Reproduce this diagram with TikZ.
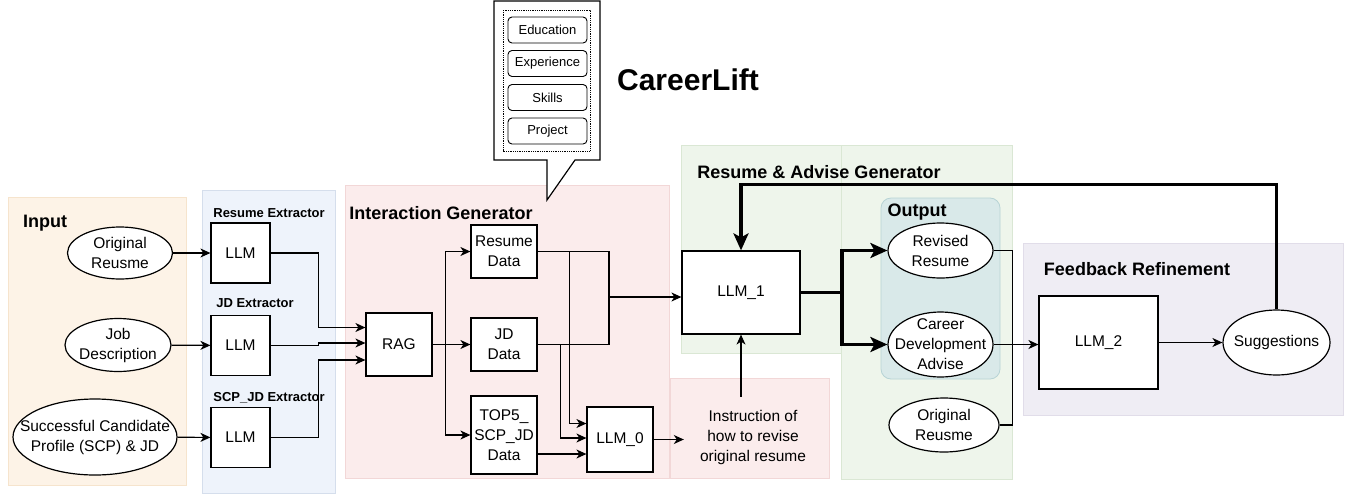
\documentclass[tikz,border=0pt]{standalone}
\usepackage{fontspec}
\setmainfont{Liberation Sans}
\usetikzlibrary{arrows.meta,positioning,shapes.geometric}
\definecolor{inputfill}{HTML}{FDF3E7}
\definecolor{inputline}{HTML}{F6E4CD}
\definecolor{extrfill}{HTML}{EEF3FB}
\definecolor{extrline}{HTML}{D5DEEC}
\definecolor{interfill}{HTML}{FBECEC}
\definecolor{interline}{HTML}{F2D7D7}
\definecolor{genfill}{HTML}{EEF5EB}
\definecolor{genline}{HTML}{DAE7D4}
\definecolor{outpfill}{HTML}{D9E9E9}
\definecolor{outpline}{HTML}{B7D3D5}
\definecolor{fbfill}{HTML}{EFEDF4}
\definecolor{fbline}{HTML}{E1DDE9}
\tikzset{
  panel/.style={draw=#1line,fill=#1fill,line width=0.8pt},
  box/.style={rectangle,draw,line width=1.2pt,fill=white,inner sep=0pt,align=center},
  oval/.style={ellipse,draw,line width=1.2pt,fill=white,inner sep=0pt},
  item/.style={rectangle,rounded corners=4pt,draw,line width=0.9pt,fill=white,
    minimum width=79pt,minimum height=26pt,font=\fontsize{13}{15}\selectfont},
  title/.style={font=\fontsize{18}{21}\selectfont\bfseries},
  subtitle/.style={font=\fontsize{13}{15}\selectfont\bfseries},
  flow/.style={-{Stealth[length=10pt,width=9pt,inset=3pt]},line width=1.2pt},
  bigflow/.style={-{Stealth[length=17pt,width=15pt,inset=4pt]},line width=3.5pt}}
\begin{document}
\begin{tikzpicture}[x=1pt,y=-1pt,font=\fontsize{15.5}{20}\selectfont]
  \useasboundingbox (0,0) rectangle (1348,498);
  % background panels
  \draw[panel=input] (8,197) rectangle (186,485);
  \draw[panel=extr] (202,190) rectangle (335,493);
  \draw[panel=inter] (345,185) rectangle (669,478);
  \draw[panel=inter] (670,378) rectangle (829,478);
  \draw[panel=gen] (681,145) rectangle (841,353);
  \draw[panel=gen] (841,145) rectangle (1012,479);
  \draw[panel=outp,rounded corners=10pt] (881,198) rectangle (1000,379);
  \draw[panel=fb] (1023,243) rectangle (1343,415);
  % callout with resume sections
  \draw[line width=1.2pt,fill=white] (494,1) -- (600,1) -- (600,160) -- (575,160)
    -- (547,200) -- (547,160) -- (494,160) -- cycle;
  \draw[densely dotted,line width=0.8pt] (503,10) rectangle (590,151);
  \node[item] (edu) at (547.5,30) {Education};
  \node[item] (exper) at (547.5,63.5) {Experience};
  \node[item] (skills) at (547.5,97.5) {Skills};
  \node[item] (project) at (547.5,131) {Project};
  \node[font=\fontsize{30}{34}\selectfont\bfseries] (brand) at (688,80) {CareerLift};
  % titles
  \node[title] (inputtitle) at (45,223) {Input};
  \node[subtitle] (resextr) at (269,213) {Resume Extractor};
  \node[subtitle] (jdextr) at (255,303) {JD Extractor};
  \node[subtitle] (scpextr) at (269,398) {SCP\_JD Extractor};
  \node[title] (intertitle) at (441,213) {Interaction Generator};
  \node[title] (gentitle) at (819,172) {Resume \& Advise Generator};
  \node[title] (outtitle) at (917,212) {Output};
  \node[title] (fbtitle) at (1137,269) {Feedback Refinement};
  % input
  \node[oval,minimum width=105pt,minimum height=52pt,
    label={[align=center]center:Original\\Reusme}] (origin) at (120,253) {};
  \node[oval,minimum width=106pt,minimum height=53pt,
    label={[align=center]center:Job\\Description}] (job) at (118,345) {};
  \node[oval,minimum width=164pt,minimum height=76pt,
    label={[align=center]center:Successful Candidate\\Profile (SCP) \& JD}] (scp) at (95,437) {};
  % extractors
  \node[box,minimum width=59pt,minimum height=60pt] (llmres) at (240.5,253) {LLM};
  \node[box,minimum width=59pt,minimum height=60pt] (llmjd) at (240.5,345.5) {LLM};
  \node[box,minimum width=59pt,minimum height=60pt] (llmscp) at (240.5,437.5) {LLM};
  % interaction generator
  \node[box,minimum width=66pt,minimum height=63pt] (rag) at (399,344.5) {RAG};
  \node[box,minimum width=66pt,minimum height=53pt] (resdata) at (504,251.5) {Resume\\Data};
  \node[box,minimum width=66pt,minimum height=53pt] (jddata) at (504,344.5) {JD\\Data};
  \node[box,minimum width=66pt,minimum height=78pt] (topdata) at (504,435) {TOP5\_\\SCP\_JD\\Data};
  \node[box,minimum width=66pt,minimum height=65pt] (llmzero) at (620,439.5) {LLM\_0};
  \node[align=center,inner xsep=16pt,inner ysep=13pt] (instr) at (753,437)
    {Instruction of\\how to revise\\original resume};
  % generator and output
  \node[box,minimum width=118pt,minimum height=83pt] (llmone) at (741,292.5) {LLM\_1};
  \node[oval,minimum width=105pt,minimum height=55pt,
    label={[align=center]center:Revised\\Resume}] (revised) at (940.5,250.5) {};
  \node[oval,minimum width=105pt,minimum height=65pt,
    label={[align=center]center:Career\\Development\\Advise}] (career) at (940.5,344.5) {};
  \node[oval,minimum width=110pt,minimum height=54pt,
    label={[align=center]center:Original\\Reusme}] (origout) at (944,425) {};
  % feedback refinement
  \node[box,minimum width=119pt,minimum height=93pt] (llmtwo) at (1098.5,342.5) {LLM\_2};
  \node[oval,minimum width=107pt,minimum height=65pt,
    label={center:Suggestions}] (suggest) at (1276.5,342.5) {};
  % connectors
  \draw[flow] (origin) -- (llmres);
  \draw[flow] (job) -- (llmjd);
  \draw[flow] (scp) -- (llmscp);
  \draw[flow] (llmres.east) -- ++(48,0) |- ([yshift=17pt]rag.west);
  \draw[flow] (llmjd.east) -- ++(48,0) |- ([yshift=1.5pt]rag.west);
  \draw[flow] (llmscp.east) -- ++(48,0) |- ([yshift=-15.5pt]rag.west);
  \coordinate (ragfork) at ([xshift=13pt]rag.east);
  \draw[flow] (rag) -- (jddata);
  \draw[flow] (ragfork) |- (resdata.west);
  \draw[flow] (ragfork) |- (topdata.west);
  \coordinate (merge) at (609,297);
  \draw[line width=1.2pt] (resdata.east) -| (merge);
  \draw[line width=1.2pt] (jddata.east) -| (merge);
  \draw[flow] (merge) -- (merge -| llmone.west);
  \draw[flow] (resdata.east) -- ++(32,0) |- ([yshift=16pt]llmzero.west);
  \draw[flow] (jddata.east) -- ++(23,0) |- ([yshift=1.5pt]llmzero.west);
  \draw[flow] ([yshift=-14.5pt]llmzero.west -| topdata.east) -- ([yshift=-14.5pt]llmzero.west);
  \draw[flow] (llmzero.east) -- (llmzero.east -| instr.west);
  \draw[flow] (llmone.south |- instr.north) -- (llmone.south);
  \coordinate (split) at (842,292.5);
  \draw[line width=3.5pt] (llmone.east) -- (split);
  \draw[bigflow] (split) |- (revised.west);
  \draw[bigflow] (split) |- (career.west);
  \draw[line width=1.2pt] (revised.east) -- ++(19,0) |- (origout.east);
  \draw[flow] (career.east) -- (career.east -| llmtwo.west);
  \draw[flow] (llmtwo) -- (suggest);
  \draw[bigflow] (suggest.north) -- ++(0,-125) -| (llmone.north);
\end{tikzpicture}
\end{document}
